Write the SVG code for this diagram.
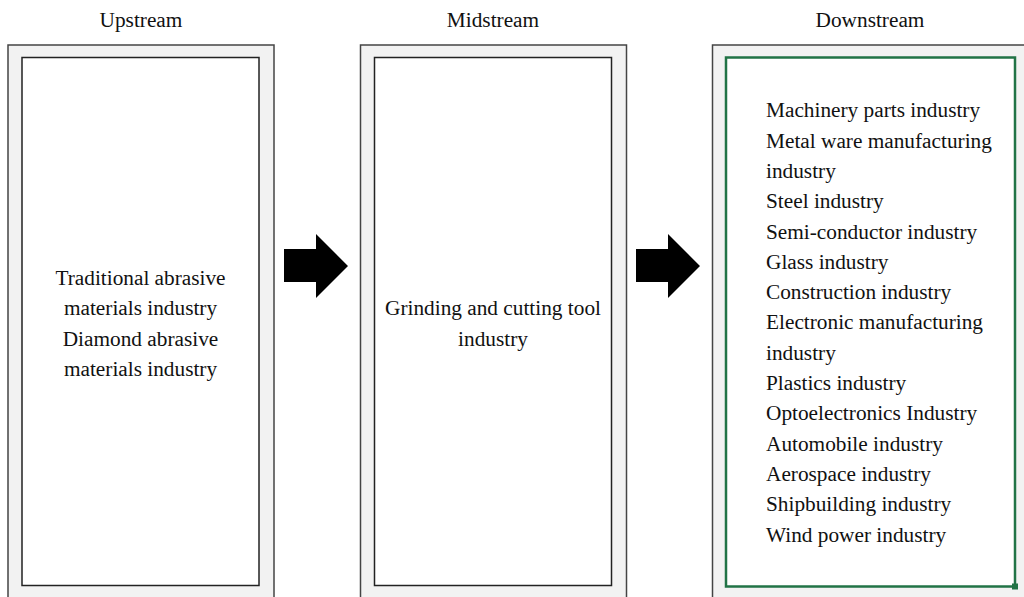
<svg xmlns="http://www.w3.org/2000/svg" width="1024" height="597" viewBox="0 0 1024 597">
<style>
.outer{fill:#f2f2f2;stroke:#444;stroke-width:1.5}
.inner{fill:#fff;stroke:#222;stroke-width:1.5}
.sel{fill:#fff;stroke:#217346;stroke-width:2.5}
.t{font-family:"Liberation Serif","Times New Roman",serif;font-size:21.3px;fill:#111}
.c{text-anchor:middle}
.arrow{fill:#000}
</style>
<rect width="1024" height="597" fill="#fff"/>
<g id="upstream">
<text class="t c" x="141" y="26.5">Upstream</text>
<rect class="outer" x="8" y="45" width="266" height="560"/>
<rect class="inner" x="22" y="57.5" width="237" height="528"/>
<text class="t c" x="140.5" y="285">Traditional abrasive</text>
<text class="t c" x="140.5" y="315.3">materials industry</text>
<text class="t c" x="140.5" y="345.6">Diamond abrasive</text>
<text class="t c" x="140.5" y="375.9">materials industry</text>
</g>
<g id="midstream">
<text class="t c" x="493" y="26.5">Midstream</text>
<rect class="outer" x="360.5" y="45" width="266" height="560"/>
<rect class="inner" x="374.5" y="57.5" width="237" height="528"/>
<text class="t c" x="493" y="315.3">Grinding and cutting tool</text>
<text class="t c" x="493" y="345.6">industry</text>
</g>
<g id="downstream">
<text class="t c" x="870" y="26.5">Downstream</text>
<rect class="outer" x="712.5" y="45" width="330" height="560"/>
<rect class="sel" x="726" y="57.5" width="289" height="529"/>
<rect x="1012" y="583.5" width="6" height="6" fill="#217346"/>
<text class="t" x="766" y="117.3">Machinery parts industry</text>
<text class="t" x="766" y="147.6">Metal ware manufacturing</text>
<text class="t" x="766" y="177.9">industry</text>
<text class="t" x="766" y="208.2">Steel industry</text>
<text class="t" x="766" y="238.5">Semi-conductor industry</text>
<text class="t" x="766" y="268.8">Glass industry</text>
<text class="t" x="766" y="299.1">Construction industry</text>
<text class="t" x="766" y="329.4">Electronic manufacturing</text>
<text class="t" x="766" y="359.7">industry</text>
<text class="t" x="766" y="390">Plastics industry</text>
<text class="t" x="766" y="420.3">Optoelectronics Industry</text>
<text class="t" x="766" y="450.6">Automobile industry</text>
<text class="t" x="766" y="480.9">Aerospace industry</text>
<text class="t" x="766" y="511.2">Shipbuilding industry</text>
<text class="t" x="766" y="541.5">Wind power industry</text>
</g>
<g id="connectors">
<polygon class="arrow" points="284,249 316,249 316,234 348,266 316,298 316,282 284,282"/>
<polygon class="arrow" points="636,249 668,249 668,234 700,266 668,298 668,282 636,282"/>
</g>
</svg>
